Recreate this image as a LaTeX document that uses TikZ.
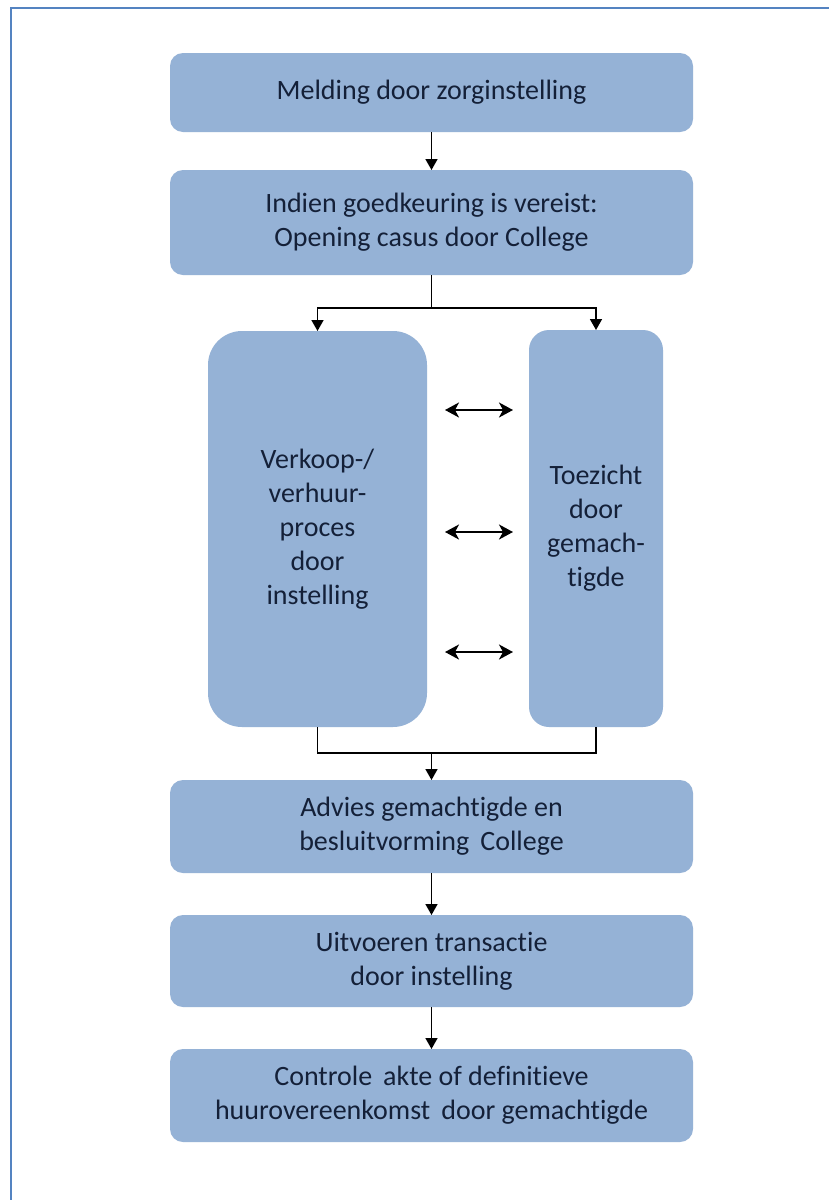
\documentclass[tikz,border=0pt]{standalone}
\usepackage{fontspec}
\setmainfont{Carlito}[Ligatures=NoCommon]
\usetikzlibrary{arrows.meta}
\definecolor{boxfill}{RGB}{149,178,214}
\definecolor{txt}{RGB}{20,32,56}
\definecolor{frameblue}{RGB}{84,131,193}
\tikzset{
  box/.style={rectangle, fill=boxfill, inner sep=0pt, outer sep=0pt, align=center, text=txt,
    font=\fontsize{28}{34}\selectfont},
  arr/.style={line width=1.6pt, -{Triangle[length=11pt,width=12pt]}},
  link/.style={line width=1.6pt},
  dbl/.style={line width=2pt, {Stealth[length=14pt,width=15pt,inset=4pt]}-{Stealth[length=14pt,width=15pt,inset=4pt]}},
  frameline/.style={draw=frameblue, line width=2pt}
}
\begin{document}
\begin{tikzpicture}[x=1pt,y=-1pt]
\useasboundingbox (0,0) rectangle (829,1200);
\fill[white] (0,0) rectangle (829,1200);
\draw[frameline] (10.5,1200) -- (10.5,7.5) -- (829,7.5);

\node[box, rounded corners=13pt, minimum width=523pt, minimum height=79pt] (b1) at (431.5,92.5) {Melding door zorginstelling};
\node[box, rounded corners=13pt, minimum width=523pt, minimum height=105pt] (b2) at (431.5,222.5) {Indien goedkeuring is vereist:\\Opening casus door College};
\node[box, rounded corners=34pt, minimum width=219pt, minimum height=396pt] (lb) at (317.5,529) {Verkoop-/\\verhuur-\\proces\\door\\instelling};
\node[box, rounded corners=20pt, minimum width=134pt, minimum height=397pt] (rb) at (596,528.5) {Toezicht\\door\\gemach-\\tigde};
\node[box, rounded corners=13pt, minimum width=523pt, minimum height=93pt] (b3) at (431.5,826.5) {Advies gemachtigde en\\besluitvorming\, College};
\node[box, rounded corners=13pt, minimum width=523pt, minimum height=92pt] (b4) at (431.5,961) {Uitvoeren transactie\\door instelling};
\node[box, rounded corners=13pt, minimum width=523pt, minimum height=93pt] (b5) at (431.5,1095.5) {Controle\, akte of definitieve\\huurovereenkomst\, door gemachtigde};

\draw[arr] (b1.south) -- (b2.north);

\coordinate (split) at (431.5,308);
\draw[link] (b2.south) -- (split);
\draw[arr] (split) -| (lb.north);
\draw[arr] (split) -| (rb.north);

\draw[dbl, shorten <=18pt, shorten >=16pt] (lb.east |- 0,410) -- (rb.west |- 0,410);
\draw[dbl, shorten <=18pt, shorten >=16pt] (lb.east |- 0,532) -- (rb.west |- 0,532);
\draw[dbl, shorten <=18pt, shorten >=16pt] (lb.east |- 0,652) -- (rb.west |- 0,652);

\coordinate (merge) at (431.5,753);
\draw[link] (lb.south) |- (merge);
\draw[link] (rb.south) |- (merge);
\draw[arr] (merge) -- (b3.north);

\draw[arr] (b3.south) -- (b4.north);
\draw[arr] (b4.south) -- (b5.north);
\end{tikzpicture}
\end{document}
